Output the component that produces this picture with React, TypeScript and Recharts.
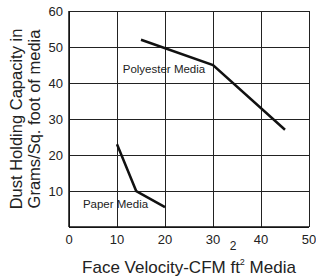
import { LineChart, Line, XAxis, YAxis, CartesianGrid, ReferenceDot } from "recharts";

// Face velocity (CFM/ft²) vs dust holding capacity (g/sq ft)
const polyester = [
  { v: 15, cap: 52 },
  { v: 30, cap: 45 },
  { v: 45, cap: 27 },
];
const paper = [
  { v: 10, cap: 23 },
  { v: 14, cap: 10 },
  { v: 20, cap: 5.5 },
];
const xTicks = [0, 10, 20, 30, 40, 50];
const yTicks = [0, 10, 20, 30, 40, 50, 60];

const table = [
  ...polyester.map((p) => ({ v: p.v, poly: p.cap })),
  ...paper.map((p) => ({ v: p.v, paper: p.cap })),
].sort((a, b) => a.v - b.v);

const W = 316;
const H = 278;
const M = { top: 11, right: 7, bottom: 0, left: 0 };
const YW = 69;
const XH = 51;

const FONT = "'Liberation Sans', Arial, sans-serif";
const INK = "#222";
const GRID = "#222";

const YTitle = (props: any) => {
  const vb = props.viewBox;
  const cy = vb.y + vb.height / 2;
  return (
    <g fontFamily={FONT} fontSize={16.5} fill={INK} textAnchor="middle">
      <text transform={`translate(16,${cy}) rotate(-90)`} dominantBaseline="central">
        Dust Holding Capacity in
      </text>
      <text transform={`translate(34,${cy}) rotate(-90)`} dominantBaseline="central">
        Grams/Sq. foot of media
      </text>
    </g>
  );
};

const XTitle = (props: any) => {
  const vb = props.viewBox;
  const cx = vb.x + vb.width / 2;
  return (
    <g fontFamily={FONT} fill={INK}>
      <text x={233} y={250} fontSize={12} textAnchor="middle">2</text>
      <text x={cx} y={273} fontSize={17} textAnchor="middle">
        Face Velocity-CFM ft<tspan fontSize={9} dy={-8}>2</tspan>
        <tspan dy={8}> Media</tspan>
      </text>
    </g>
  );
};

const tag = (text: string) => (props: any) => {
  const vb = props.viewBox;
  return (
    <text x={vb.x} y={vb.y} dominantBaseline="central" fontFamily={FONT} fontSize={11.5} fill={INK}>
      {text}
    </text>
  );
};

const yTickFmt = (v: number) => (v === 0 ? "" : String(v));

export default function App() {
  return (
    <div style={{ position: "absolute", left: 0, top: 0 }}>
      <LineChart width={W} height={H} data={table} margin={M}>
        <CartesianGrid stroke={GRID} strokeWidth={1} shapeRendering="crispEdges" />
        <XAxis
          type="number"
          dataKey="v"
          domain={[0, 50]}
          ticks={xTicks}
          interval={0}
          tickLine={false}
          axisLine={{ stroke: "#111", strokeWidth: 1.5 }}
          tick={{ fill: INK, fontSize: 13, fontFamily: FONT }}
          tickMargin={2}
          height={XH}
          label={{ content: XTitle }}
        />
        <YAxis
          type="number"
          domain={[0, 60]}
          ticks={yTicks}
          interval={0}
          tickFormatter={yTickFmt}
          tickLine={false}
          axisLine={{ stroke: "#111", strokeWidth: 1.5 }}
          tick={{ fill: INK, fontSize: 13, fontFamily: FONT }}
          tickMargin={0}
          width={YW}
          label={{ content: YTitle }}
        />
        <Line
          dataKey="poly"
          type="linear"
          stroke="#111"
          strokeWidth={2.5}
          dot={false}
          connectNulls
          isAnimationActive={false}
        />
        <Line
          dataKey="paper"
          type="linear"
          stroke="#111"
          strokeWidth={2.5}
          dot={false}
          connectNulls
          isAnimationActive={false}
        />
        <ReferenceDot x={11.2} y={43.8} r={0} label={{ content: tag("Polyester Media") }} />
        <ReferenceDot x={2.9} y={6.5} r={0} label={{ content: tag("Paper Media") }} />
      </LineChart>
    </div>
  );
}
